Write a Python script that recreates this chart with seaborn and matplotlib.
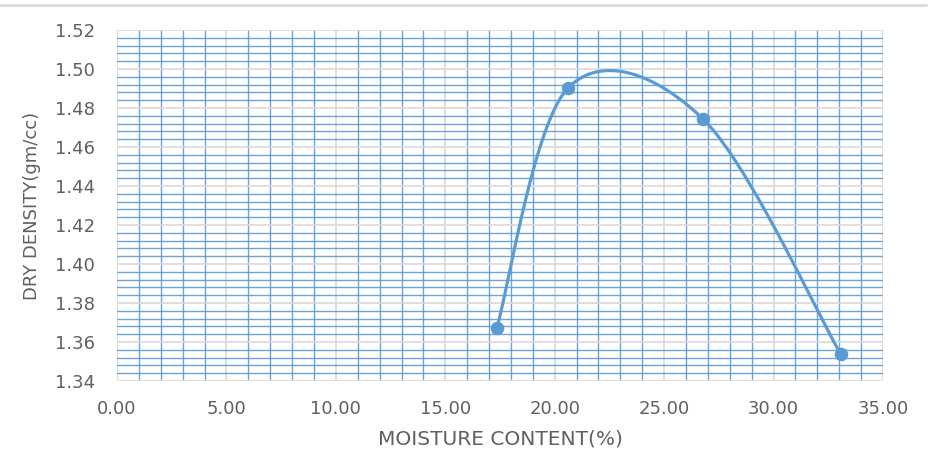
import numpy as np
import pandas as pd
import matplotlib
matplotlib.use("Agg")
import matplotlib.pyplot as plt
from matplotlib.lines import Line2D
from matplotlib.ticker import MultipleLocator, FormatStrFormatter
import seaborn as sns

# Compaction test results
moisture = [17.35, 20.62, 26.79, 33.07]        # moisture content, %
dry_density = [1.367, 1.4904, 1.4742, 1.3537]  # dry density, gm/cc

x_label = "MOISTURE CONTENT(%)"
y_label = "DRY DENSITY(gm/cc)"


def smooth_curve(x, y, n=80):
    """Cardinal (Catmull-Rom) cubic Bezier through the points, like a smoothed line."""
    pts = np.column_stack([x, y]).astype(float)
    ext = np.vstack([pts[0], pts, pts[-1]])
    parts = []
    t = np.linspace(0, 1, n)[:, None]
    for i in range(len(pts) - 1):
        p0, p1, p2, p3 = ext[i], ext[i + 1], ext[i + 2], ext[i + 3]
        c1 = p1 + (p2 - p0) / 6.0
        c2 = p2 - (p3 - p1) / 6.0
        seg = ((1 - t) ** 3) * p1 + 3 * ((1 - t) ** 2) * t * c1 \
            + 3 * (1 - t) * (t ** 2) * c2 + (t ** 3) * p2
        parts.append(seg if i == 0 else seg[1:])
    return np.vstack(parts)


sns.set_theme(style="white")
plt.rcParams["font.family"] = ["DejaVu Sans"]

text_color = "#606060"
line_color = "#5B9BD5"

fig = plt.figure(figsize=(9.31, 4.54), dpi=100)
ax = fig.add_axes([117 / 931, 1 - 381 / 454, (883 - 117) / 931, (381 - 30) / 454])

points = pd.DataFrame({"moisture": moisture, "density": dry_density})
curve_xy = smooth_curve(moisture, dry_density)
curve = pd.DataFrame({"moisture": curve_xy[:, 0], "density": curve_xy[:, 1]})

sns.lineplot(data=curve, x="moisture", y="density", sort=False, estimator=None,
             color=line_color, linewidth=2.3, ax=ax, zorder=3)
sns.scatterplot(data=points, x="moisture", y="density", color=line_color,
                s=95, edgecolor=line_color, linewidth=0, ax=ax, zorder=4)

ax.set_xlim(0, 35)
ax.set_ylim(1.34, 1.52)
ax.xaxis.set_major_locator(MultipleLocator(5))
ax.xaxis.set_minor_locator(MultipleLocator(1))
ax.yaxis.set_major_locator(MultipleLocator(0.02))
ax.yaxis.set_minor_locator(MultipleLocator(0.004))
ax.xaxis.set_major_formatter(FormatStrFormatter("%.2f"))
ax.yaxis.set_major_formatter(FormatStrFormatter("%.2f"))

ax.set_axisbelow(True)
ax.grid(which="minor", color=line_color, linewidth=1.0, alpha=0.9)
ax.grid(which="major", color="#D9D9D9", linewidth=1.2)

for side in ["top", "right", "left", "bottom"]:
    ax.spines[side].set_visible(False)

ax.tick_params(axis="both", which="both", length=0)
ax.tick_params(axis="x", pad=14, labelsize=13, labelcolor=text_color)
ax.tick_params(axis="y", pad=16, labelsize=13, labelcolor=text_color)

ax.set_xlabel(x_label, fontsize=14.5, color=text_color, labelpad=8)
ax.set_ylabel(y_label, fontsize=13, color=text_color, labelpad=10)

# thin frame line along the top of the chart area
fig.add_artist(Line2D([0, 0.995], [1 - 5 / 454, 1 - 5 / 454], color="#D9D9D9",
                      linewidth=2, transform=fig.transFigure))

fig.savefig("out.png", dpi=100, facecolor="white")
